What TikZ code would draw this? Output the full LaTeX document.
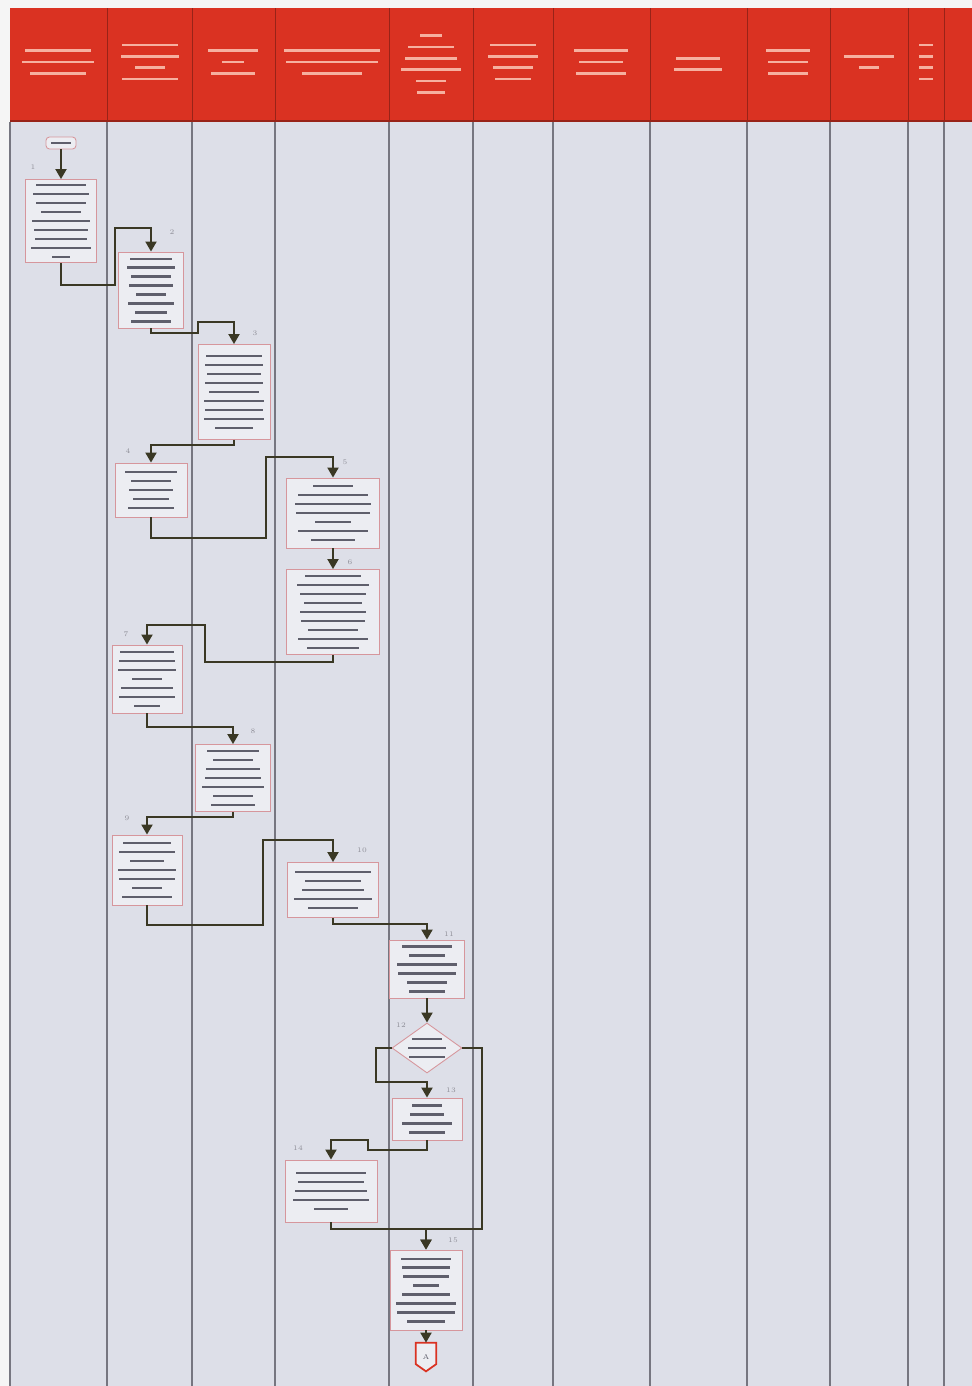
\documentclass[tikz,border=0pt]{standalone}
\usetikzlibrary{arrows.meta,shapes.geometric}
\definecolor{hdrred}{RGB}{218,50,34}
\definecolor{lanebg}{RGB}{221,223,232}
\definecolor{laneln}{RGB}{118,118,128}
\definecolor{boxln}{RGB}{214,150,156}
\definecolor{boxbg}{RGB}{236,237,242}
\definecolor{txtgray}{RGB}{95,95,108}
\definecolor{hdrtxt}{RGB}{246,176,160}
\definecolor{flowln}{RGB}{58,56,36}
% illegible print lines, widths in px of the scan
\newcommand\tb[1]{\textcolor{txtgray}{\rule{\dimexpr0.2mm*#1\relax}{1.3pt}}}
\newcommand\hb[1]{\textcolor{hdrtxt}{\rule{\dimexpr0.2mm*#1\relax}{1.4pt}}}
\tikzset{
  sz/.style 2 args={minimum width=#1*0.02cm, minimum height=#2*0.02cm},
  blk/.style={draw=boxln, fill=boxbg, line width=0.5pt, align=center,
              inner sep=1pt, font=\fontsize{3}{5.1}\selectfont},
  dec/.style={blk, diamond, aspect=1.4, inner sep=0pt},
  term/.style={blk, rounded corners=2pt},
  hdr/.style={align=center, font=\fontsize{3}{6.5}\selectfont},
  stepno/.style={font=\fontsize{4}{4}\selectfont, text=txtgray!70},
  flow/.style={-{Triangle[length=2mm,width=2.2mm]}, line width=1.1pt, draw=flowln},
  lane/.style={draw=laneln, line width=0.6pt},
  offpg/.style={draw=hdrred, fill=boxbg, line width=1pt},
}
\begin{document}
\begin{tikzpicture}[x=0.02cm, y=-0.02cm]
  \useasboundingbox (0,0) rectangle (972,1386);
  % paper and lanes
  \fill[black!4] (0,0) rectangle (972,1386);
  \fill[lanebg] (10,122) rectangle (972,1386);
  \fill[hdrred] (10,8) rectangle (972,122);
  \foreach \x in {107,192,275,389,473,553,650,747,830,908,944} {
    \draw[hdrred!70!black, line width=0.4pt] (\x,8) -- (\x,122);
    \draw[lane] (\x,122) -- (\x,1386);
  }
  \draw[lane] (10,122) -- (10,1386);
  \draw[hdrred!70!black, line width=0.6pt] (10,121) -- (972,121);

  % lane headers
  \node[hdr] (h1) at (58,62) {\hb{66}\\\hb{72}\\\hb{56}};
  \node[hdr] (h2) at (150,62) {\hb{56}\\\hb{58}\\\hb{30}\\\hb{56}};
  \node[hdr] (h3) at (233,62) {\hb{50}\\\hb{22}\\\hb{44}};
  \node[hdr] (h4) at (332,62) {\hb{96}\\\hb{92}\\\hb{60}};
  \node[hdr] (h5) at (431,64) {\hb{22}\\\hb{46}\\\hb{52}\\\hb{60}\\\hb{30}\\\hb{28}};
  \node[hdr] (h6) at (513,62) {\hb{46}\\\hb{50}\\\hb{40}\\\hb{36}};
  \node[hdr] (h7) at (601,62) {\hb{54}\\\hb{44}\\\hb{50}};
  \node[hdr] (h8) at (698,64) {\hb{44}\\\hb{48}};
  \node[hdr] (h9) at (788,62) {\hb{44}\\\hb{40}\\\hb{40}};
  \node[hdr] (h10) at (869,62) {\hb{50}\\\hb{20}};
  \node[hdr] (h11) at (926,62) {\hb{14}\\\hb{14}\\\hb{14}\\\hb{14}};

  % activities
  \node[term, sz={30}{12}] (s0) at (61,143) {\tb{20}};
  \node[blk, sz={71}{83}] (b1) at (61,221) {\tb{50}\\\tb{56}\\\tb{50}\\\tb{40}\\\tb{58}\\\tb{54}\\\tb{52}\\\tb{60}\\\tb{18}};
  \node[blk, sz={65}{76}] (b2) at (151,290) {\tb{42}\\\tb{48}\\\tb{40}\\\tb{44}\\\tb{30}\\\tb{46}\\\tb{32}\\\tb{40}};
  \node[blk, sz={72}{95}] (b3) at (234,392) {\tb{56}\\\tb{58}\\\tb{54}\\\tb{58}\\\tb{50}\\\tb{60}\\\tb{58}\\\tb{60}\\\tb{38}};
  \node[blk, sz={72}{54}] (b4) at (151,490) {\tb{52}\\\tb{40}\\\tb{44}\\\tb{36}\\\tb{46}};
  \node[blk, sz={93}{70}] (b5) at (333,513) {\tb{40}\\\tb{70}\\\tb{76}\\\tb{74}\\\tb{36}\\\tb{70}\\\tb{44}};
  \node[blk, sz={93}{85}] (b6) at (333,612) {\tb{56}\\\tb{72}\\\tb{66}\\\tb{58}\\\tb{66}\\\tb{64}\\\tb{50}\\\tb{70}\\\tb{52}};
  \node[blk, sz={70}{68}] (b7) at (147,679) {\tb{54}\\\tb{56}\\\tb{58}\\\tb{30}\\\tb{52}\\\tb{56}\\\tb{26}};
  \node[blk, sz={75}{67}] (b8) at (233,778) {\tb{52}\\\tb{40}\\\tb{54}\\\tb{56}\\\tb{62}\\\tb{40}\\\tb{44}};
  \node[blk, sz={70}{70}] (b9) at (147,870) {\tb{48}\\\tb{56}\\\tb{34}\\\tb{58}\\\tb{56}\\\tb{30}\\\tb{50}};
  \node[blk, sz={91}{55}] (b10) at (333,890) {\tb{76}\\\tb{56}\\\tb{62}\\\tb{78}\\\tb{50}};
  \node[blk, sz={75}{58}] (b11) at (427,969) {\tb{50}\\\tb{36}\\\tb{60}\\\tb{58}\\\tb{40}\\\tb{36}};
  \node[dec, sz={70}{50}] (d12) at (427,1048) {\tb{30}\\\tb{38}\\\tb{36}};
  \node[blk, sz={70}{42}] (b13) at (427,1119) {\tb{30}\\\tb{34}\\\tb{50}\\\tb{36}};
  \node[blk, sz={92}{62}] (b14) at (331,1191) {\tb{70}\\\tb{66}\\\tb{72}\\\tb{76}\\\tb{34}};
  \node[blk, sz={72}{80}] (b15) at (426,1290) {\tb{50}\\\tb{48}\\\tb{46}\\\tb{26}\\\tb{48}\\\tb{60}\\\tb{58}\\\tb{38}};
  % off-page connector
  \node[inner sep=0pt, sz={20}{28}] (e1) at (426,1357) {};
  \draw[offpg] (e1.north west) -- (e1.north east) -- ([yshift=-4pt]e1.east)
    -- (e1.south) -- ([yshift=-4pt]e1.west) -- cycle;
  \node[inner sep=0pt, font=\fontsize{4}{4}\selectfont, text=txtgray] (e1t) at (e1) {A};

  % step numbers
  \node[stepno] (n1) at (33,167) {1};
  \node[stepno] (n2) at (172,232) {2};
  \node[stepno] (n3) at (255,333) {3};
  \node[stepno] (n4) at (128,451) {4};
  \node[stepno] (n5) at (345,462) {5};
  \node[stepno] (n6) at (350,562) {6};
  \node[stepno] (n7) at (126,634) {7};
  \node[stepno] (n8) at (253,731) {8};
  \node[stepno] (n9) at (127,818) {9};
  \node[stepno] (n10) at (362,850) {10};
  \node[stepno] (n11) at (449,934) {11};
  \node[stepno] (n12) at (401,1025) {12};
  \node[stepno] (n13) at (451,1090) {13};
  \node[stepno] (n14) at (298,1148) {14};
  \node[stepno] (n15) at (453,1240) {15};

  % connectors
  \draw[flow] (s0) -- (b1);
  \draw[flow] (b1.south) |- (115,285) |- (151,228) -- (b2.north);
  \draw[flow] (b2.south) |- (198,333) |- (234,322) -- (b3.north);
  \draw[flow] (b3.south) |- (151,445) -- (b4.north);
  \draw[flow] (b4.south) |- (266,538) |- (333,457) -- (b5.north);
  \draw[flow] (b5) -- (b6);
  \draw[flow] (b6.south) |- (205,662) |- (147,625) -- (b7.north);
  \draw[flow] (b7.south) |- (233,727) -- (b8.north);
  \draw[flow] (b8.south) |- (147,817) -- (b9.north);
  \draw[flow] (b9.south) |- (263,925) |- (333,840) -- (b10.north);
  \draw[flow] (b10.south) |- (427,924) -- (b11.north);
  \draw[flow] (b11) -- (d12);
  \draw[flow] (d12.west) -| (376,1082) -- (427,1082) -- (b13.north);
  \draw[flow] (d12.east) -| (482,1229) -- (426,1229) -- (b15.north);
  \draw[flow] (b13.south) |- (368,1150) |- (331,1140) -- (b14.north);
  \draw[flow] (b14.south) |- (426,1229) -- (b15.north);
  \draw[flow] (b15) -- (e1.north);
\end{tikzpicture}
\end{document}
